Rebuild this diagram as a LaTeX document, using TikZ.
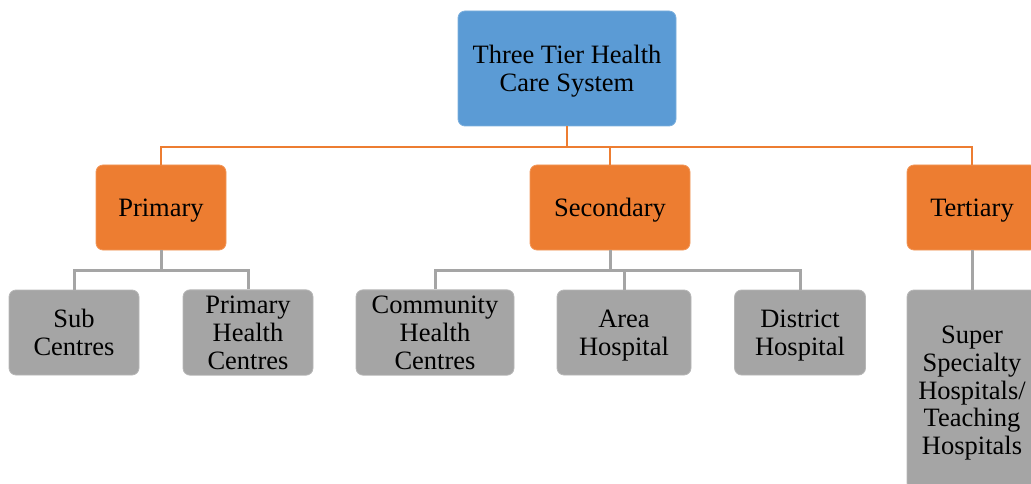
\documentclass[tikz,border=0pt]{standalone}
\usepackage{fontspec}
\setmainfont{Liberation Serif}
\definecolor{cblue}{HTML}{5B9BD5}
\definecolor{corange}{HTML}{ED7D31}
\definecolor{cgray}{HTML}{A5A5A5}
\newcommand{\topst}{\rule{0pt}{24pt}}
\newcommand{\botst}{\rule[-5.7pt]{0pt}{5.7pt}}
\begin{document}
\begin{tikzpicture}[x=1pt,y=-1pt,
  box/.style={rounded corners=7pt, inner sep=0pt, align=center,
    font=\fontsize{26.5}{27.8}\selectfont, text=black},
  rootbox/.style={box, fill=cblue, draw=cblue!80!white, line width=0.8pt},
  tierbox/.style={box, fill=corange, draw=corange!80!white, line width=0.8pt},
  leafbox/.style={box, fill=cgray, draw=cgray!80!white, line width=0.8pt},
  oline/.style={draw=corange, line width=2.2pt},
  gline/.style={draw=cgray, line width=3pt}]
\useasboundingbox (0,0) rectangle (1031,484);
\clip (0,0) rectangle (1031,484);
% root
\node[rootbox, minimum width=218pt, minimum height=115pt] (root) at (567,68.5) {\topst Three Tier Health\\Care System\botst};
% tiers
\node[tierbox, minimum width=130pt, minimum height=85pt] (prim) at (161,207.5) {\topst Primary\botst};
\node[tierbox, minimum width=160pt, minimum height=85pt] (sec) at (610,207.5) {\topst Secondary\botst};
\node[tierbox, minimum width=130pt, minimum height=85pt] (ter) at (972,207.5) {\topst Tertiary\botst};
% leaves
\node[leafbox, minimum width=130pt, minimum height=85pt] (sub) at (74,332.5) {\topst Sub\\Centres\botst};
\node[leafbox, minimum width=130pt, minimum height=85pt] (phc) at (248,332.5) {\topst Primary\\Health\\Centres\botst};
\node[leafbox, minimum width=158pt, minimum height=85pt] (chc) at (435,332.5) {\topst Community\\Health\\Centres\botst};
\node[leafbox, minimum width=134pt, minimum height=85pt] (area) at (624,332.5) {\topst Area\\Hospital\botst};
\node[leafbox, minimum width=131pt, minimum height=85pt] (dist) at (800,332.5) {\topst District\\Hospital\botst};
\node[leafbox, minimum width=130pt, minimum height=200pt] (sup) at (972,390) {\topst Super\\Specialty\\Hospitals/\\Teaching\\Hospitals\botst};
% coordinates for bus lines
\coordinate (ob) at (567,147);
\coordinate (gp) at (161,270);
\coordinate (gs) at (610,270);
% orange connectors
\draw[oline] (root.south) -- (ob);
\draw[oline] (ob) -| (prim.north);
\draw[oline] (ob) -| (sec.north);
\draw[oline] (ob) -| (ter.north);
% gray connectors
\draw[gline] (prim.south) -- (gp);
\draw[gline] (gp) -| (sub.north);
\draw[gline] (gp) -| (phc.north);
\draw[gline] (sec.south) -- (gs);
\draw[gline] (gs) -| (chc.north);
\draw[gline] (gs) -| (area.north);
\draw[gline] (gs) -| (dist.north);
\draw[gline] (ter.south) -- (sup.north);
\end{tikzpicture}
\end{document}
